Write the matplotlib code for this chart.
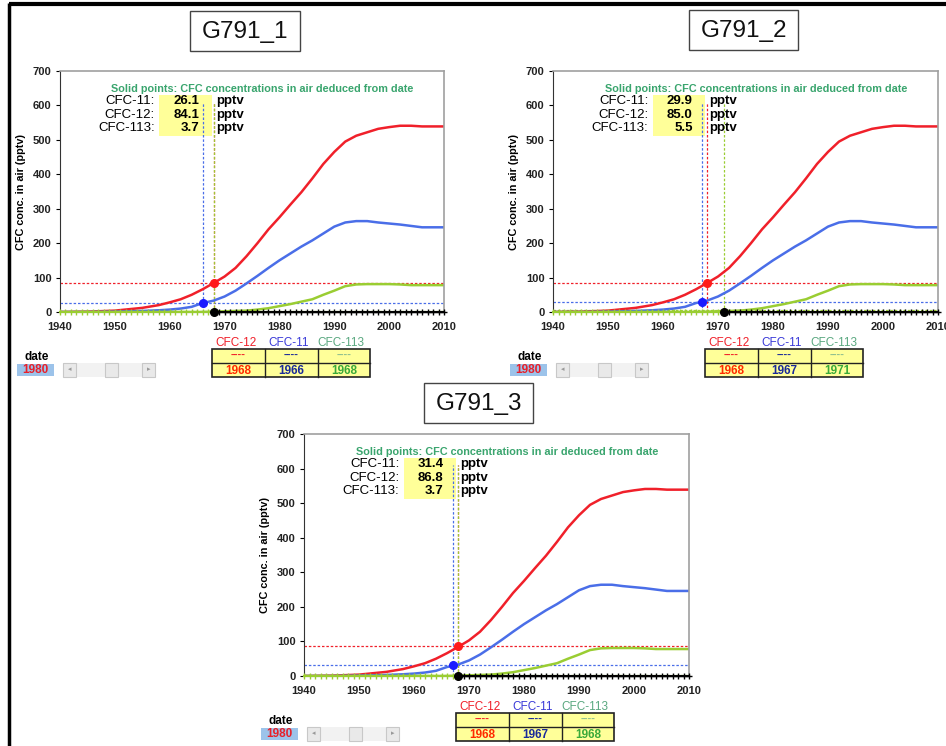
import matplotlib
matplotlib.use('Agg')
import matplotlib.pyplot as plt
from matplotlib.patches import Rectangle

plt.rcParams['font.family'] = ['Liberation Sans', 'DejaVu Sans']

# atmospheric history curves (pptv)
years = [1940, 1945, 1950, 1955, 1958, 1960, 1962, 1964, 1966, 1968, 1970, 1972,
         1974, 1976, 1978, 1980, 1982, 1984, 1986, 1988, 1990, 1992, 1994, 1996,
         1998, 2000, 2002, 2004, 2006, 2008, 2010]
cfc12 = [0, 1, 4, 12, 20, 28, 37, 50, 66, 84, 103, 128,
         162, 200, 240, 275, 312, 348, 388, 430, 465, 495, 512, 522,
         532, 537, 541, 541, 539, 539, 539]
cfc11 = [0, 0, 1, 3, 5, 7, 10, 15, 26, 33, 45, 62,
         83, 105, 128, 150, 170, 190, 208, 228, 248, 260, 264, 264,
         260, 257, 254, 250, 246, 246, 246]
cfc113 = [0, 0, 0, 0, 0, 0, 0, 0, 0, 1, 2, 3,
          4, 7, 11, 17, 23, 30, 37, 50, 62, 75, 80, 81,
          81, 81, 80, 78, 78, 78, 78]
marker_years = list(range(1940, 2011))

# per-sample results
panel_names = ['G791_1', 'G791_2', 'G791_3']
conc11 = [26.1, 29.9, 31.4]
conc12 = [84.1, 85.0, 86.8]
conc113 = [3.7, 5.5, 3.7]
date12 = [1968, 1968, 1968]
date11 = [1966, 1967, 1967]
date113 = [1968, 1971, 1968]
sample_date = '1980'

W, H = 946, 746
RED = '#f0202a'
BLUE = '#4a6ee8'
YGREEN = '#9acd32'
TXTGREEN = '#3aa56e'

fig = plt.figure(figsize=(W / 100, H / 100), dpi=100)
bg = fig.add_axes([0, 0, 1, 1])
bg.set_xlim(0, W)
bg.set_ylim(H, 0)
bg.axis('off')

# outer frame (left and top)
bg.plot([9, 9], [3, H], color='black', lw=2.5, solid_capstyle='butt')
bg.plot([9, W], [4, 4], color='black', lw=3, solid_capstyle='butt')

# axes boxes in pixels: left, top, right, bottom
panels = [(60, 71, 444, 312), (553, 71, 938, 312), (304, 434, 689, 676)]
title_boxes = [(190, 11, 300, 51), (689, 10, 798, 50), (424, 383, 533, 423)]


def draw_panel(i):
    L, T, R, B = panels[i]
    ax = fig.add_axes([L / W, 1 - B / H, (R - L) / W, (B - T) / H])
    ax.set_zorder(2)
    ax.set_xlim(1940, 2010)
    ax.set_ylim(0, 700)

    dash = dict(lw=0.9, ls=(0, (2, 1.5)))
    ax.axhline(conc12[i], color=RED, **dash)
    ax.axhline(conc11[i], color=BLUE, **dash)
    ax.axhline(conc113[i], color=YGREEN, **dash)
    ax.plot([date11[i], date11[i]], [0, 610], color=BLUE, **dash)
    ax.plot([date12[i], date12[i]], [0, 610], color=RED, **dash)
    ax.plot([date113[i], date113[i]], [0, 610], color=YGREEN, **dash)

    ax.plot(years, cfc12, color=RED, lw=1.8)
    ax.plot(years, cfc11, color=BLUE, lw=1.8)
    ax.plot(years, cfc113, color=YGREEN, lw=1.8)

    # sampling marks along the baseline
    before = [y for y in marker_years if y <= date113[i]]
    after = [y for y in marker_years if y >= date113[i]]
    ax.plot(before, [0] * len(before), color=YGREEN, lw=1.5, marker='|',
            ms=4, mew=1, clip_on=False, zorder=3)
    ax.plot(after, [0] * len(after), color='black', lw=1.5, marker='+',
            ms=4.5, mew=1, clip_on=False, zorder=3)

    ax.plot(date12[i], conc12[i], 'o', color='#ff1a1a', ms=5.5, zorder=4)
    ax.plot(date11[i], conc11[i], 'o', color='#1a1aff', ms=5.5, zorder=4)
    ax.plot(date113[i], 0, 'o', color='black', ms=5.5, zorder=4, clip_on=False)

    ax.text(1976.9, 648, 'Solid points: CFC concentrations in air deduced from date',
            color=TXTGREEN, fontsize=7.8, fontweight='bold', ha='center', va='center')
    ax.add_patch(Rectangle((1958.1, 511), 9.6, 119, facecolor='#ffff99',
                           edgecolor='none', zorder=1.5))
    rows = [('CFC-11:', conc11[i], 613), ('CFC-12:', conc12[i], 572),
            ('CFC-113:', conc113[i], 534)]
    for name, val, yv in rows:
        ax.text(1957.3, yv, name, fontsize=9.5, ha='right', va='center', zorder=5)
        ax.text(1965.4, yv, f'{val:.1f}', fontsize=9.5, ha='right', va='center',
                fontweight='bold', zorder=5)
        ax.text(1968.4, yv, 'pptv', fontsize=9.5, ha='left', va='center',
                fontweight='bold', zorder=5)

    ax.set_xticks(range(1940, 2011, 10))
    ax.set_yticks(range(0, 701, 100))
    ax.tick_params(axis='y', labelsize=8, length=3, width=0.8, pad=3)
    ax.tick_params(axis='x', labelsize=8, length=0, pad=7)
    for lbl in ax.get_xticklabels() + ax.get_yticklabels():
        lbl.set_fontweight('bold')
        lbl.set_color('#222222')
    ax.set_ylabel('CFC conc. in air (pptv)', fontsize=7.8, fontweight='bold', labelpad=5)
    for side in ['top', 'right']:
        ax.spines[side].set_color('#a0a0a0')
        ax.spines[side].set_linewidth(1.2)
    ax.spines['left'].set_color('#333333')
    ax.spines['bottom'].set_color('#333333')

    # title box
    x0, y0, x1, y1 = title_boxes[i]
    bg.add_patch(Rectangle((x0, y0), x1 - x0, y1 - y0, facecolor='white',
                           edgecolor='#444444', lw=1))
    bg.text((x0 + x1) / 2, (y0 + y1) / 2 + 1, panel_names[i], fontsize=17.5,
            ha='center', va='center', color='#111111')

    # legend labels and date table below the chart
    tx = [L + 152, L + 205, L + 258, L + 310]
    names = ['CFC-12', 'CFC-11', 'CFC-113']
    name_cols = [RED, '#3a3ad8', '#5aa880']
    year_cols = ['#ff2a00', '#1a2a9a', '#3aaa3a']
    dash_cols = [RED, '#1a2a9a', '#8fbf8f']
    yrs = [date12[i], date11[i], date113[i]]
    bg.add_patch(Rectangle((tx[0], B + 37), tx[3] - tx[0], 28, facecolor='#ffff99',
                           edgecolor='#222222', lw=1.2))
    bg.plot([tx[0], tx[3]], [B + 51, B + 51], color='#222222', lw=1)
    for k in range(3):
        cx = (tx[k] + tx[k + 1]) / 2
        if k > 0:
            bg.plot([tx[k], tx[k]], [B + 37, B + 65], color='#222222', lw=1)
        bg.text(cx - 3, B + 31, names[k], color=name_cols[k], fontsize=8.5,
                ha='center', va='center')
        bg.text(cx, B + 43, '----', color=dash_cols[k], fontsize=8,
                ha='center', va='center', fontweight='bold')
        bg.text(cx, B + 58.5, str(yrs[k]), color=year_cols[k], fontsize=8.5,
                ha='center', va='center', fontweight='bold')

    # date control with scroll bar
    bg.text(L - 23, B + 45, 'date', fontsize=8.5, fontweight='bold',
            ha='center', va='center')
    bg.add_patch(Rectangle((L - 43, B + 52), 37, 12, facecolor='#9cc3ea',
                           edgecolor='none'))
    bg.text(L - 24.5, B + 58, sample_date, fontsize=8.5, fontweight='bold',
            color='#e8202a', ha='center', va='center')
    bg.add_patch(Rectangle((L + 3, B + 51), 92, 14, facecolor='#f2f2f2',
                           edgecolor='none'))
    for bx in [L + 3, L + 45, L + 82]:
        bg.add_patch(Rectangle((bx, B + 51), 13, 14, facecolor='#e9e9e9',
                               edgecolor='#c8c8c8', lw=0.8))
    bg.text(L + 9.5, B + 58, '◂', fontsize=5, color='#999999', ha='center', va='center')
    bg.text(L + 88.5, B + 58, '▸', fontsize=5, color='#999999', ha='center', va='center')


for i in range(3):
    draw_panel(i)

fig.savefig('out.png', dpi=100)
